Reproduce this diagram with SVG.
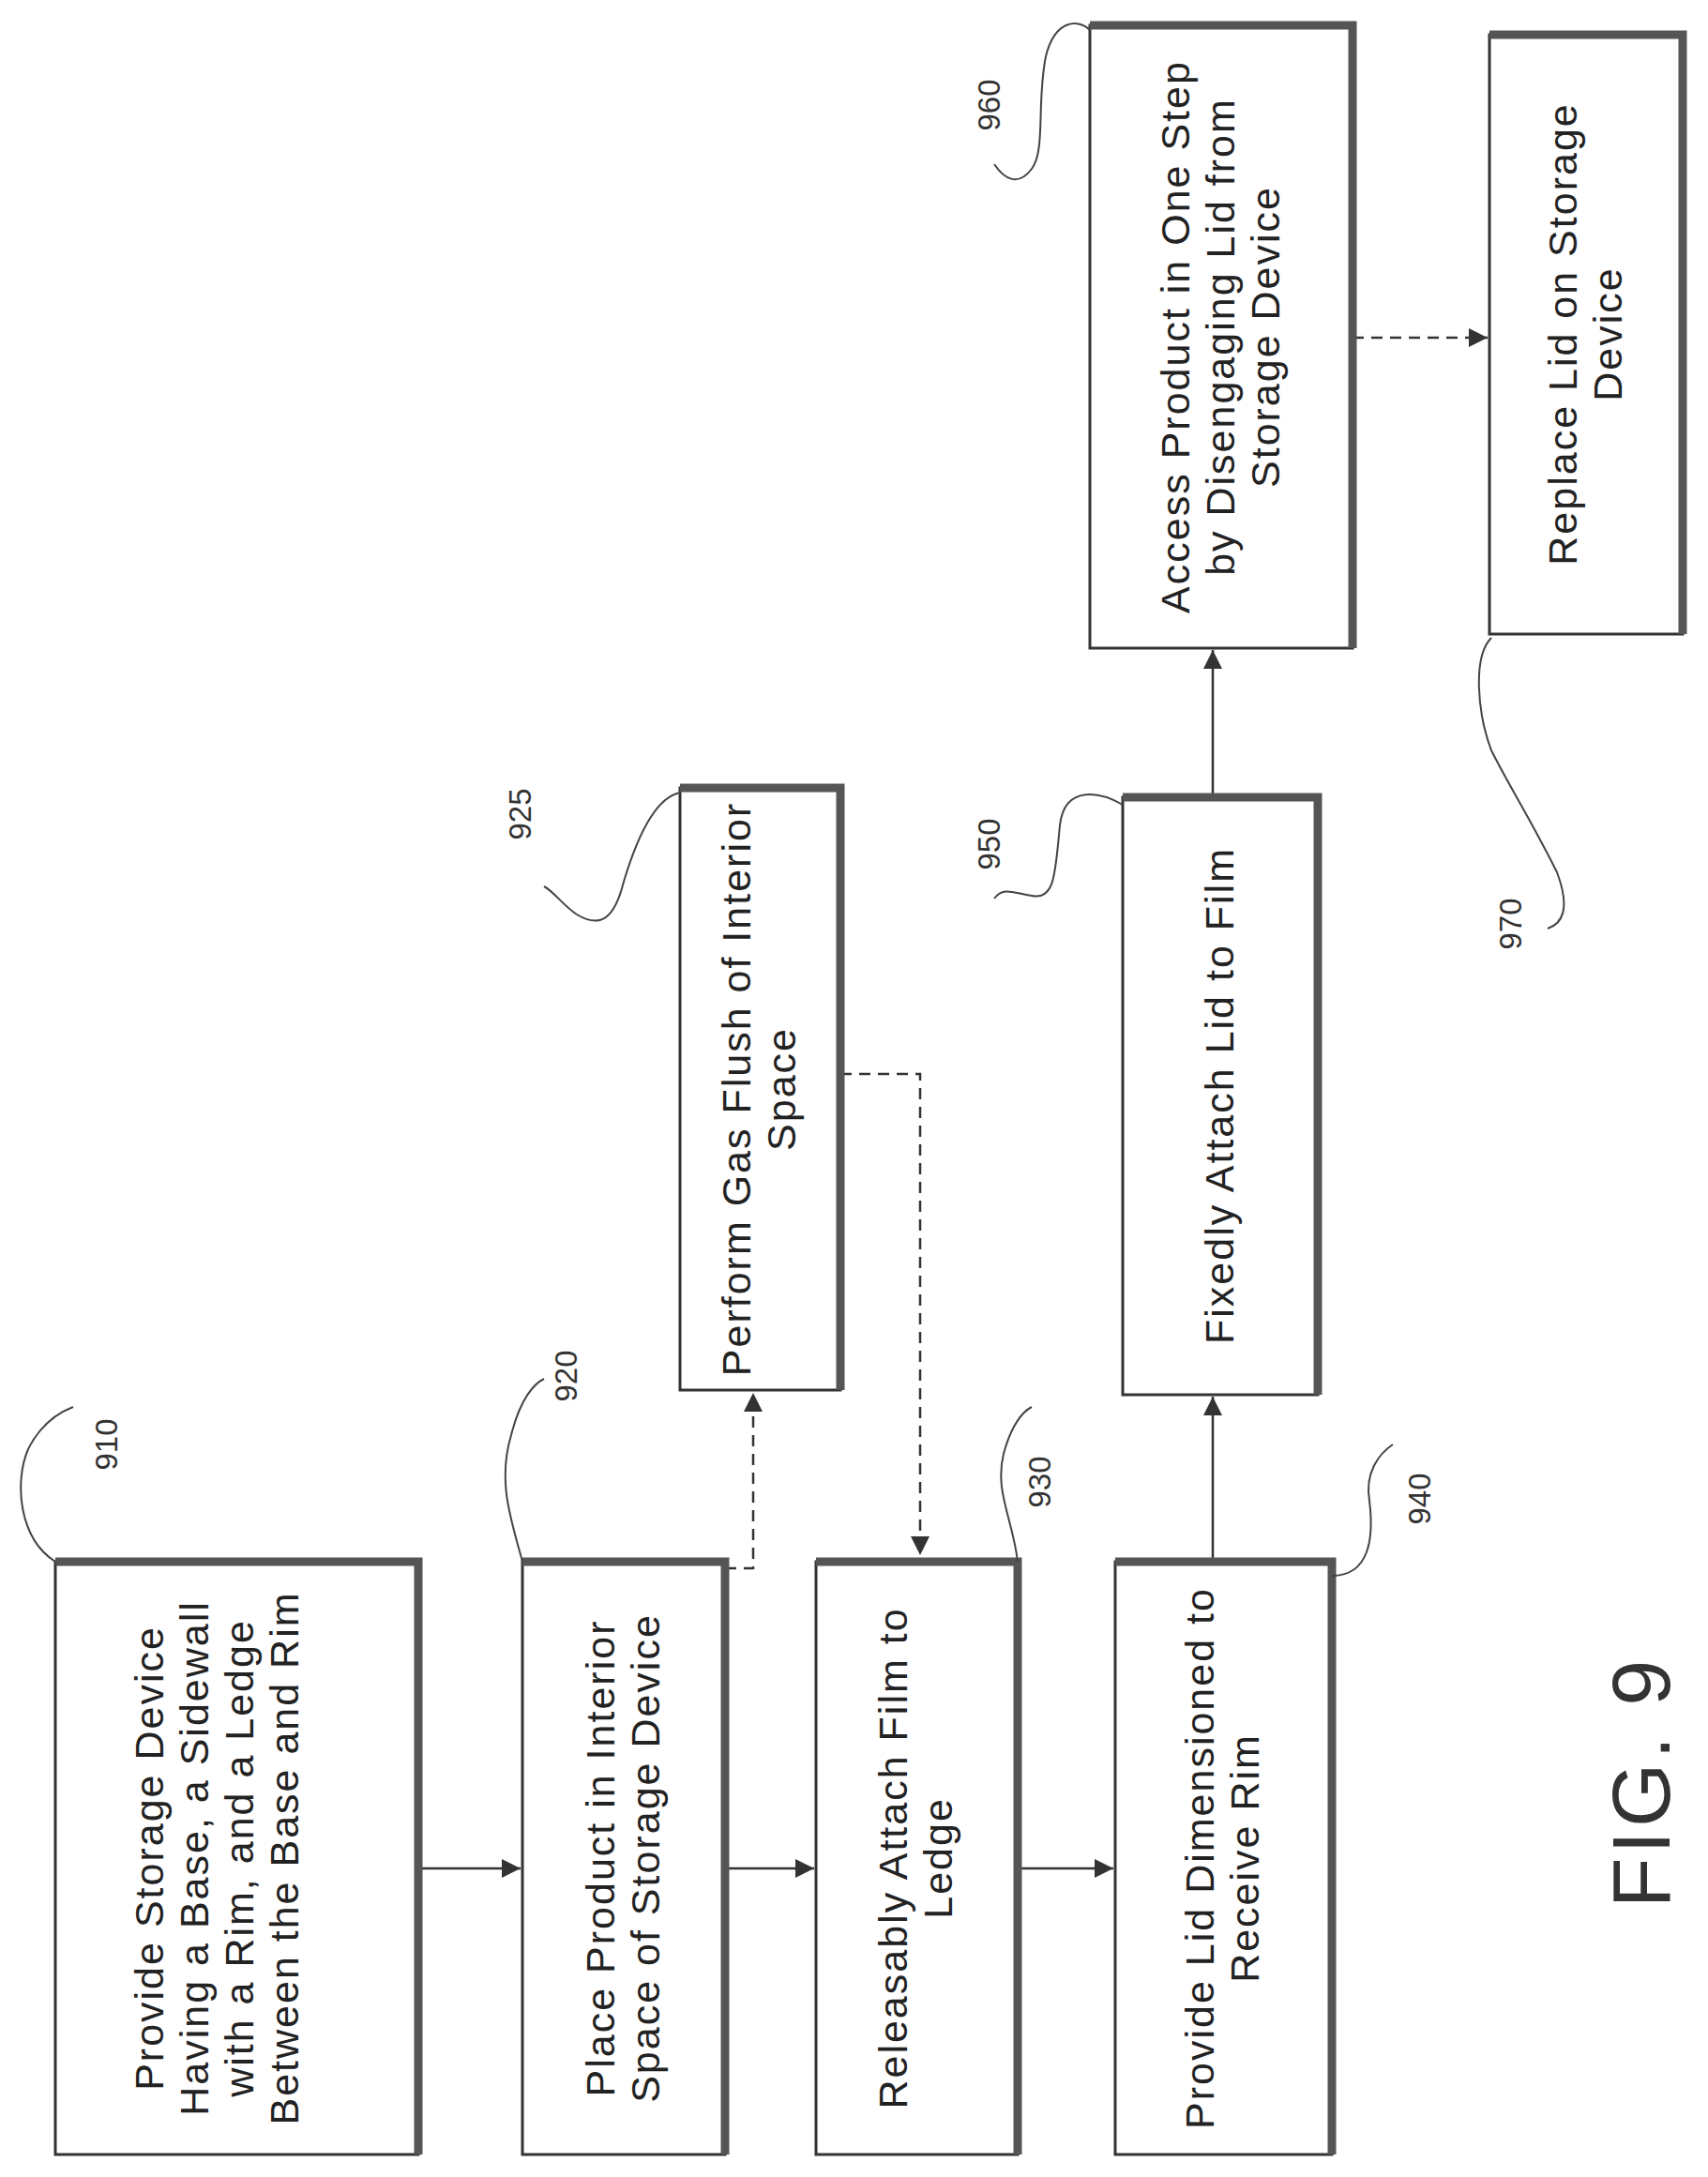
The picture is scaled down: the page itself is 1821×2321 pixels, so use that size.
<svg xmlns="http://www.w3.org/2000/svg" width="1821" height="2321" viewBox="0 0 1821 2321">
<style>
.box{fill:#fff;stroke:#333;stroke-width:3}
.sh{fill:none;stroke:#555;stroke-width:9}
.t{font-family:"Liberation Sans",Arial,sans-serif;font-size:43px;letter-spacing:2px;fill:#222;text-anchor:middle}
.lbl{font-family:"Liberation Sans",Arial,sans-serif;font-size:33px;fill:#333;text-anchor:middle}
.c{fill:none;stroke:#333;stroke-width:2.5}
.d{fill:none;stroke:#333;stroke-width:2.5;stroke-dasharray:12 8}
.lead{fill:none;stroke:#444;stroke-width:2}
</style>
<defs><marker id="a" viewBox="0 0 10 10" refX="10" refY="5" markerWidth="8" markerHeight="8" orient="auto"><path d="M0,0L10,5L0,10z" fill="#333"/></marker></defs>
<g id="connectors">
<line class="c" x1="446" y1="1992" x2="555" y2="1992" marker-end="url(#a)"/>
<line class="c" x1="773" y1="1992" x2="868" y2="1992" marker-end="url(#a)"/>
<line class="c" x1="1085" y1="1992" x2="1187" y2="1992" marker-end="url(#a)"/>
<line class="c" x1="1293" y1="1665" x2="1293" y2="1489" marker-end="url(#a)"/>
<line class="c" x1="1293" y1="850" x2="1293" y2="693" marker-end="url(#a)"/>
<line class="d" x1="1442" y1="360" x2="1586" y2="360" marker-end="url(#a)"/>
<path class="d" d="M773,1672H803V1485" marker-end="url(#a)"/>
<path class="d" d="M896,1145H981V1658" marker-end="url(#a)"/>
</g>
<g id="n910"><rect class="box" x="59" y="1665" width="387" height="632"/><path class="sh" d="M59,1665H446V2297"/>
<text class="t" transform="translate(252,1981) rotate(-90)"><tspan x="0" y="-78">Provide Storage Device</tspan><tspan x="0" y="-30">Having a Base, a Sidewall</tspan><tspan x="0" y="18">with a Rim, and a Ledge</tspan><tspan x="0" y="66">Between the Base and Rim</tspan></text></g>
<g id="n920"><rect class="box" x="557" y="1665" width="216" height="632"/><path class="sh" d="M557,1665H773V2297"/>
<text class="t" transform="translate(665,1981) rotate(-90)"><tspan x="0" y="-10">Place Product in Interior</tspan><tspan x="0" y="38">Space of Storage Device</tspan></text></g>
<g id="n930"><rect class="box" x="870" y="1665" width="215" height="632"/><path class="sh" d="M870,1665H1085V2297"/>
<text class="t" transform="translate(977,1981) rotate(-90)"><tspan x="0" y="-10">Releasably Attach Film to</tspan><tspan x="0" y="38">Ledge</tspan></text></g>
<g id="n940"><rect class="box" x="1189" y="1665" width="231" height="632"/><path class="sh" d="M1189,1665H1420V2297"/>
<text class="t" transform="translate(1304,1981) rotate(-90)"><tspan x="0" y="-10">Provide Lid Dimensioned to</tspan><tspan x="0" y="38">Receive Rim</tspan></text></g>
<g id="n925"><rect class="box" x="725" y="840" width="171" height="642"/><path class="sh" d="M725,840H896V1482"/>
<text class="t" transform="translate(810,1161) rotate(-90)"><tspan x="0" y="-10">Perform Gas Flush of Interior</tspan><tspan x="0" y="38">Space</tspan></text></g>
<g id="n950"><rect class="box" x="1197" y="850" width="208" height="637"/><path class="sh" d="M1197,850H1405V1487"/>
<text class="t" transform="translate(1301,1168) rotate(-90)"><tspan x="0" y="14">Fixedly Attach Lid to  Film</tspan></text></g>
<g id="n960"><rect class="box" x="1162" y="27" width="280" height="664"/><path class="sh" d="M1162,27H1442V691"/>
<text class="t" transform="translate(1302,359) rotate(-90)"><tspan x="0" y="-34">Access Product in One Step</tspan><tspan x="0" y="14">by Disengaging Lid from</tspan><tspan x="0" y="62">Storage Device</tspan></text></g>
<g id="n970"><rect class="box" x="1588" y="37" width="206" height="639"/><path class="sh" d="M1588,37H1794V676"/>
<text class="t" transform="translate(1691,356) rotate(-90)"><tspan x="0" y="-10">Replace Lid on Storage</tspan><tspan x="0" y="38">Device</tspan></text></g>
<g id="labels">
<path class="lead" d="M59,1665C20,1640 15,1580 30,1545C45,1515 65,1505 78,1500"/><text class="lbl" transform="translate(125,1540) rotate(-90)">910</text>
<path class="lead" d="M557,1665C545,1620 530,1580 545,1530C555,1490 570,1475 580,1470"/><text class="lbl" transform="translate(615,1467) rotate(-90)">920</text>
<path class="lead" d="M1085,1665C1080,1620 1060,1590 1070,1550C1078,1520 1090,1505 1100,1500"/><text class="lbl" transform="translate(1120,1580) rotate(-90)">930</text>
<path class="lead" d="M1420,1680C1460,1680 1465,1640 1460,1600C1455,1570 1470,1550 1485,1540"/><text class="lbl" transform="translate(1525,1598) rotate(-90)">940</text>
<path class="lead" d="M725,845C700,850 680,890 665,940C655,980 640,990 615,975C600,965 590,950 580,945"/><text class="lbl" transform="translate(566,868) rotate(-90)">925</text>
<path class="lead" d="M1197,858C1175,845 1135,835 1130,880C1125,930 1125,960 1100,955C1080,952 1070,945 1060,958"/><text class="lbl" transform="translate(1066,900) rotate(-90)">950</text>
<path class="lead" d="M1162,32C1150,20 1125,20 1115,60C1105,110 1115,160 1100,180C1085,200 1070,190 1060,175"/><text class="lbl" transform="translate(1066,112) rotate(-90)">960</text>
<path class="lead" d="M1590,680C1570,700 1575,760 1590,800C1610,840 1630,870 1660,930C1675,970 1665,985 1650,990"/><text class="lbl" transform="translate(1622,985) rotate(-90)">970</text>
<text transform="translate(1780,1900) rotate(-90)" style="font-family:'Liberation Sans',Arial,sans-serif;font-size:88px;letter-spacing:4px;fill:#333;text-anchor:middle">FIG. 9</text>
</g>
</svg>
